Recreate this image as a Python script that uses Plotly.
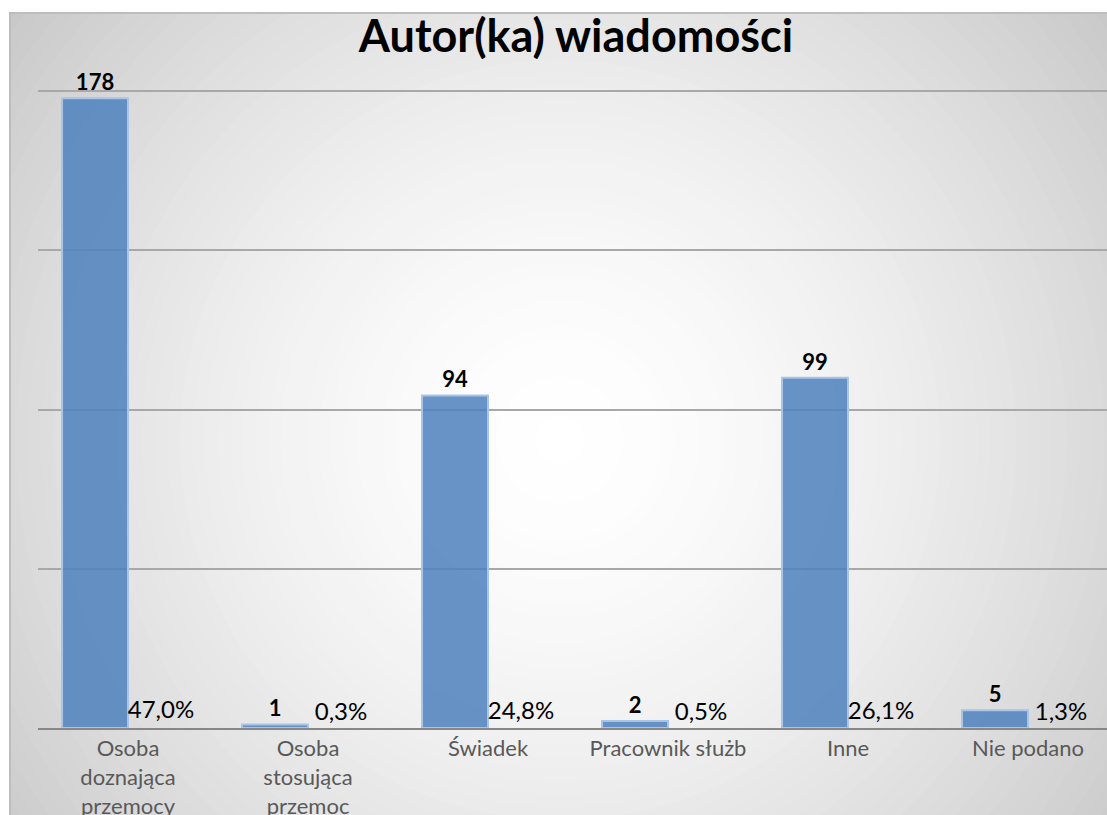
import plotly.graph_objects as go

categories = ["Osoba<br>doznająca<br>przemocy", "Osoba<br>stosująca<br>przemoc", "Świadek",
              "Pracownik służb", "Inne", "Nie podano"]
counts = [178, 1, 94, 2, 99, 5]
shares = [0.470, 0.003, 0.248, 0.005, 0.261, 0.013]
y_ticks = [0, 45, 90, 135, 180]

W, H = 1107, 815
FONT = "Lato"

def px(x):
    return x / W

def py(y):
    return 1 - y / H

fig = go.Figure()

fig.add_trace(go.Bar(
    x=categories, y=counts, name="Liczba",
    marker=dict(color="rgba(79,129,189,0.86)", line=dict(color="rgba(170,196,230,1)", width=2)),
    texttemplate="%{y}", textposition="outside", constraintext="none", cliponaxis=False,
    textfont=dict(family=FONT, size=22, color="black", weight="bold"),
))
fig.add_trace(go.Bar(
    x=categories, y=shares, name="Udział",
    marker=dict(color="rgba(0,0,0,0)", line=dict(width=0)),
    texttemplate="%{y:.1%}", textposition="outside", constraintext="none", cliponaxis=False,
    textfont=dict(family=FONT, size=24, color="black"),
))

# radial gradient background approximated with concentric circles
shapes = []
cx, cy = 560, 440
n = 60
rmax = 760
for i in range(n):
    r = rmax * (1 - i / n)
    t = r / rmax
    g = int(round(255 - 62 * min(1.0, t) ** 1.6))
    shapes.append(dict(type="circle", xref="paper", yref="paper",
                       x0=px(cx - r), x1=px(cx + r), y0=py(cy + r), y1=py(cy - r),
                       fillcolor=f"rgb({g},{g},{g})", line=dict(width=0), layer="below"))
# mask outside chart area
shapes.append(dict(type="rect", xref="paper", yref="paper", x0=-0.5, x1=px(10), y0=-0.5, y1=1.5,
                   fillcolor="white", line=dict(width=0), layer="below"))
shapes.append(dict(type="rect", xref="paper", yref="paper", x0=-0.5, x1=1.5, y0=py(13), y1=1.5,
                   fillcolor="white", line=dict(width=0), layer="below"))
shapes.append(dict(type="rect", xref="paper", yref="paper", x0=px(10), x1=px(1125), y0=py(840), y1=py(13),
                   fillcolor="rgba(0,0,0,0)", line=dict(color="#bdbdbd", width=2), layer="below"))

fig.update_layout(
    width=W, height=H,
    margin=dict(l=0, r=0, t=0, b=0),
    paper_bgcolor="white", plot_bgcolor="rgba(0,0,0,0)",
    separators=", ",
    barmode="group", bargap=0.267, bargroupgap=0,
    showlegend=False,
    title=dict(text="Autor(ka) wiadomości", x=px(576), xanchor="center", y=py(36), yanchor="middle",
               font=dict(family=FONT, size=45, color="black", weight="bold")),
    xaxis=dict(domain=[px(38), 1], range=[-0.5, -0.5 + (W - 38) / 180],
               showline=True, linecolor="#878787", linewidth=2, showgrid=False,
               ticks="", tickfont=dict(family=FONT, size=22, color="#595959"), automargin=False),
    yaxis=dict(domain=[py(728), py(90)], range=[0, 180.3], tickvals=y_ticks, showticklabels=False,
               showgrid=True, gridcolor="#a8a8a8", gridwidth=2, zeroline=False, showline=False,
               automargin=False),
    shapes=shapes,
)

fig.write_html("out.html", config={"displayModeBar": False},
               post_script="document.body.style.margin='0';document.body.style.overflow='hidden';")
